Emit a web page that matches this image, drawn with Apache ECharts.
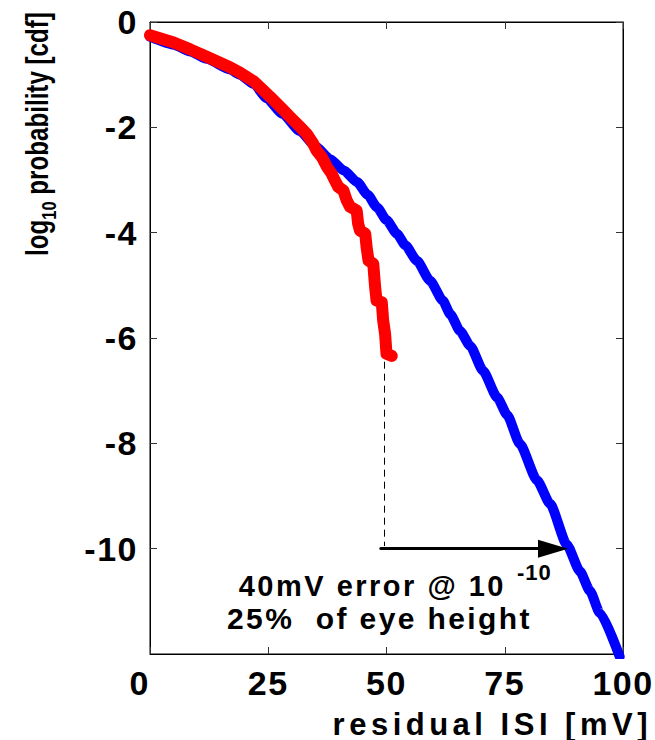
<!DOCTYPE html>
<html>
<head>
<meta charset="utf-8">
<script src="https://cdn.jsdelivr.net/npm/echarts@6/dist/echarts.min.js"></script>
<style>
  body { margin: 0; background: #fff; }
  #chart { width: 655px; height: 740px; }
  #chart text { white-space: pre; }
</style>
</head>
<body>
<div id="chart"></div>
<script>
// residual ISI [mV] vs log10 cdf
const blueX = [0, 5, 8.5, 12, 16.9, 19, 22, 24.7, 28, 31.7, 35, 38, 41, 43.8, 46, 48, 50, 52.2, 54, 56.4, 59.2, 61.9, 63.5, 65.5, 67.7, 70.4, 73.4, 75.5, 78.2, 81.8, 84.6, 88.1, 90.9, 93, 95.1, 99.3];
const blueY = [-0.28, -0.43, -0.56, -0.7, -0.9, -1.0, -1.18, -1.45, -1.74, -2.07, -2.36, -2.6, -2.82, -3.04, -3.28, -3.52, -3.76, -4.02, -4.24, -4.53, -4.91, -5.29, -5.55, -5.86, -6.15, -6.62, -7.13, -7.46, -8.01, -8.7, -9.15, -9.92, -10.43, -10.8, -11.22, -12.05];

const redX = [0, 5, 8.5, 12, 16.9, 19, 22, 25.4, 28.2, 29.6, 31.7, 33.1, 34.5, 35.2, 36.3, 37.4, 38.4, 39.1, 39.8, 40.9, 41.6, 42.3, 43.7, 44.0, 44.4, 45.5, 45.8, 46.2, 47.2, 47.6, 47.9, 49.0, 49.3, 49.7, 50.0, 51.1];
const redY = [-0.25, -0.39, -0.52, -0.66, -0.86, -0.96, -1.13, -1.42, -1.67, -1.8, -1.99, -2.12, -2.31, -2.44, -2.56, -2.75, -2.88, -3.01, -3.13, -3.2, -3.39, -3.51, -3.58, -3.83, -3.96, -4.02, -4.28, -4.53, -4.59, -5.04, -5.29, -5.32, -5.67, -5.92, -6.3, -6.34];

// annotation: dashed drop line and arrow at 1e-10
const dashFrom = [49.5, -6.45];
const dashTo = [49.5, -9.95];
const arrowFrom = [48.8, -10];
const arrowTo = [85.2, -10];

const xTicks = { min: 0, max: 100, step: 25 };
const yTicks = { min: -12, max: 0, step: 2 };

const FONT = "'Liberation Sans', Arial, sans-serif";

function zip(xs, ys) {
  return xs.map((x, i) => [x, ys[i]]);
}

const chart = echarts.init(document.getElementById('chart'), null, { renderer: 'svg' });

const tickStyle = { show: true, inside: true, length: 7, lineStyle: { color: '#333', width: 1 } };
const lineAx = { show: true, onZero: false, lineStyle: { color: '#000', width: 1 } };
const labelStyle = { fontSize: 34, fontWeight: 'bold', color: '#000', fontFamily: FONT };

const option = {
  animation: false,
  backgroundColor: '#fff',
  grid: { left: 150, right: 32, top: 22, bottom: 86, show: true, borderColor: '#000', borderWidth: 1 },
  xAxis: [
    {
      type: 'value', min: xTicks.min, max: xTicks.max, interval: xTicks.step, position: 'bottom',
      axisLine: lineAx, axisTick: tickStyle, splitLine: { show: false },
      axisLabel: Object.assign({ margin: 12, alignMinLabel: 'right' }, labelStyle)
    },
    {
      type: 'value', min: xTicks.min, max: xTicks.max, interval: xTicks.step, position: 'top',
      axisLine: lineAx, axisTick: tickStyle, splitLine: { show: false }, axisLabel: { show: false }
    }
  ],
  yAxis: [
    {
      type: 'value', min: yTicks.min, max: yTicks.max, interval: yTicks.step, position: 'left',
      axisLine: lineAx, axisTick: tickStyle, splitLine: { show: false },
      axisLabel: Object.assign({ margin: 12, showMinLabel: false }, labelStyle)
    },
    {
      type: 'value', min: yTicks.min, max: yTicks.max, interval: yTicks.step, position: 'right',
      axisLine: lineAx, axisTick: tickStyle, splitLine: { show: false }, axisLabel: { show: false }
    }
  ],
  series: [
    {
      type: 'line', data: zip(blueX, blueY), showSymbol: false, clip: true, z: 2,
      smooth: 0.2, smoothMonotone: 'x',
      lineStyle: { color: '#0000ff', width: 10, cap: 'round', join: 'round' },
      markLine: {
        silent: true, symbol: ['none', 'none'], label: { show: false },
        lineStyle: { color: '#000', width: 1, type: [7, 5] },
        data: [[{ coord: dashFrom }, { coord: dashTo }]]
      }
    },
    {
      type: 'line', data: zip(redX, redY), showSymbol: false, clip: true, z: 3,
      lineStyle: { color: '#ff0000', width: 12, cap: 'round', join: 'round' },
      markLine: {
        silent: true, symbol: ['none', 'none'], label: { show: false },
        lineStyle: { color: '#000', width: 3, type: 'solid', cap: 'round' },
        data: [[
          { coord: arrowFrom },
          { coord: arrowTo, symbol: 'triangle', symbolSize: [18, 30], itemStyle: { color: '#000' } }
        ]]
      }
    }
  ],
  graphic: [
    {
      type: 'text', x: 37, y: 134, rotation: Math.PI / 2, scaleX: 0.78,
      style: {
        text: '{m|log}{s|10}{m| probability [cdf]}',
        align: 'center', verticalAlign: 'middle', fill: '#000',
        rich: {
          m: { fontSize: 31, fontWeight: 'bold', fontFamily: FONT, lineHeight: 44 },
          s: { fontSize: 21, fontWeight: 'bold', fontFamily: FONT, lineHeight: 21, verticalAlign: 'bottom' }
        }
      }
    },
    {
      type: 'text', x: 652, y: 724,
      style: { text: 'residual ISI [mV]', fontSize: 31, fontWeight: 'bold', fontFamily: FONT, fill: '#000', align: 'right', verticalAlign: 'middle' }
    },
    {
      type: 'text', x: 506, y: 586,
      style: { text: '40mV error @ 10', fontSize: 29, fontWeight: 'bold', fontFamily: FONT, fill: '#000', align: 'right', verticalAlign: 'middle' }
    },
    {
      type: 'text', x: 517, y: 572,
      style: { text: '-10', fontSize: 22, fontWeight: 'bold', fontFamily: FONT, fill: '#000', align: 'left', verticalAlign: 'middle' }
    },
    {
      type: 'text', x: 227, y: 618,
      style: { text: '25%  of eye height', fontSize: 30, fontWeight: 'bold', fontFamily: FONT, fill: '#000', align: 'left', verticalAlign: 'middle' }
    }
  ]
};

chart.setOption(option);

// the original lettering is widely spaced; svg text takes css letter-spacing
const spacing = { 34: 1.5, 31: 4.5, 30: 2.4, 29: 2.5, 22: 1 };
function spaceLetters() {
  document.querySelectorAll('#chart svg text').forEach(function (t) {
    const fs = Math.round(parseFloat(getComputedStyle(t).fontSize));
    // the rotated y-axis name shares size 31 but keeps tight lettering
    if (t.textContent.indexOf('prob') >= 0 || t.textContent === 'log') return;
    if (spacing[fs] !== undefined) t.style.letterSpacing = spacing[fs] + 'px';
  });
}
chart.on('finished', spaceLetters);
spaceLetters();
setTimeout(spaceLetters, 0);
requestAnimationFrame(spaceLetters);
</script>
</body>
</html>
